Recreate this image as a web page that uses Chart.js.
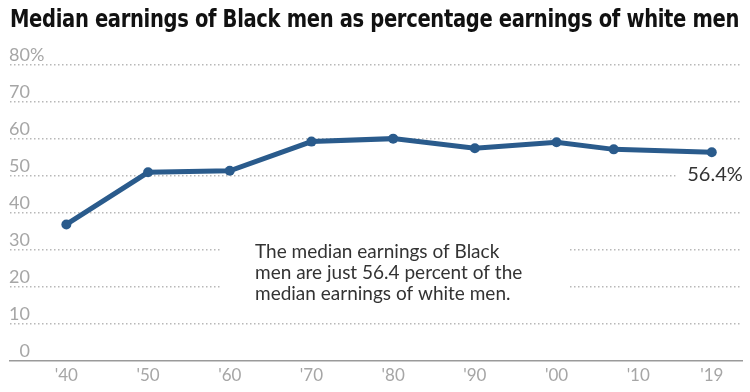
<!DOCTYPE html>
<html>
<head>
<meta charset="utf-8">
<script src="https://cdn.jsdelivr.net/npm/chart.js@4"></script>
<style>
  html, body { margin: 0; padding: 0; background: #fff; }
  #wrap { position: relative; width: 750px; height: 392px; overflow: hidden; }
  #title { position: absolute; left: 10px; top: 4px; white-space: nowrap; font-family: "DejaVu Sans Condensed", "Roboto", sans-serif; font-weight: bold; font-size: 25px; color: #111; transform-origin: left top; letter-spacing: -0.4px; }
  canvas { position: absolute; left: 0; top: 0; }
</style>
</head>
<body>
<div id="wrap">
  <canvas id="c" width="750" height="392"></canvas>
  <div id="title">Median earnings of Black men as percentage earnings of white men</div>
</div>
<script>
const years = [1940, 1950, 1960, 1970, 1980, 1990, 2000, 2007, 2019];
const ratios = [36.9, 51.0, 51.4, 59.3, 60.1, 57.5, 59.1, 57.2, 56.4];
const xTickYears = [1940, 1950, 1960, 1970, 1980, 1990, 2000, 2010, 2019];
const xTickLabels = ["'40", "'50", "'60", "'70", "'80", "'90", "'00", "'10", "'19"];
const yTickValues = [0, 10, 20, 30, 40, 50, 60, 70, 80];
const yTickLabels = ["0", "10", "20", "30", "40", "50", "60", "70", "80%"];
const noteLines = ["The median earnings of Black", "men are just 56.4 percent of the", "median earnings of white men."];

// fit title width
(function () {
  const t = document.getElementById('title');
  const w = t.getBoundingClientRect().width;
  const target = 729;
  t.style.transform = 'scaleX(' + (target / w) + ')';
})();

const LINE = '#2a5b8c';
const FONT = 'Lato, "Open Sans", sans-serif';

const overlay = {
  id: 'overlay',
  beforeDatasetsDraw(chart) {
    const ctx = chart.ctx;
    const xs = chart.scales.x, ys = chart.scales.y;
    ctx.save();
    ctx.fillStyle = '#fff';
    ctx.fillRect(222, 232, 346, 72);
    const lx = xs.getPixelForValue(years[years.length - 1]);
    const ly = ys.getPixelForValue(ratios[ratios.length - 1]);
    ctx.fillRect(lx - 36, ly + 10, 80, 26);
    ctx.restore();
  },
  afterDraw(chart) {
    const ctx = chart.ctx;
    const xs = chart.scales.x, ys = chart.scales.y;
    ctx.save();
    ctx.font = '18px ' + FONT;
    ctx.fillStyle = '#a6a6a6';
    ctx.textBaseline = 'alphabetic';
    const rightX = chart.chartArea.left + 20;
    yTickValues.forEach((v, i) => {
      const y = ys.getPixelForValue(v) - 4.5;
      const lab = yTickLabels[i];
      const num = lab.replace('%', '');
      const wNum = ctx.measureText(num).width;
      ctx.textAlign = 'left';
      ctx.fillText(lab, rightX - wNum, y);
    });
    ctx.font = '19px ' + FONT;
    ctx.fillStyle = '#333';
    ctx.textAlign = 'left';
    noteLines.forEach((s, i) => ctx.fillText(s, 255, 258 + i * 21));
    const lx = xs.getPixelForValue(years[years.length - 1]);
    const ly = ys.getPixelForValue(ratios[ratios.length - 1]);
    ctx.font = '20px ' + FONT;
    ctx.textAlign = 'right';
    ctx.fillText(ratios[ratios.length - 1].toFixed(1) + '%', lx + 31, ly + 29);
    ctx.restore();
  }
};

new Chart(document.getElementById('c'), {
  type: 'line',
  data: {
    datasets: [{
      data: years.map((y, i) => ({ x: y, y: ratios[i] })),
      borderColor: LINE,
      backgroundColor: LINE,
      borderWidth: 5,
      pointRadius: 5,
      pointBackgroundColor: LINE,
      pointBorderWidth: 0,
      pointHoverRadius: 5,
      tension: 0,
      clip: false
    }]
  },
  options: {
    responsive: false,
    animation: false,
    events: [],
    layout: { padding: { left: 10, right: 8, top: 65, bottom: 0 } },
    plugins: { legend: { display: false }, tooltip: { enabled: false }, title: { display: false } },
    scales: {
      x: {
        type: 'linear',
        min: 1933.1,
        max: 2022.7,
        grid: { display: false, drawTicks: false },
        border: { display: true, color: '#9a9a9a', width: 1.5 },
        afterBuildTicks: s => { s.ticks = xTickYears.map(v => ({ value: v })); },
        afterFit: s => { s.height = 31; },
        ticks: {
          autoSkip: false,
          maxRotation: 0,
          padding: 4,
          color: '#a6a6a6',
          font: { family: FONT, size: 17 },
          callback: v => xTickLabels[xTickYears.indexOf(v)]
        }
      },
      y: {
        min: 0,
        max: 80,
        afterBuildTicks: s => { s.ticks = yTickValues.map(v => ({ value: v })); },
        afterFit: s => { s.width = 0; },
        ticks: { display: false },
        border: { display: false, dash: [1.5, 2.5] },
        grid: {
          drawTicks: false,
          lineWidth: 1.5,
          color: c => (c.tick && c.tick.value === 0) ? 'rgba(0,0,0,0)' : '#b8b8b8'
        }
      }
    }
  },
  plugins: [overlay]
});
</script>
</body>
</html>
